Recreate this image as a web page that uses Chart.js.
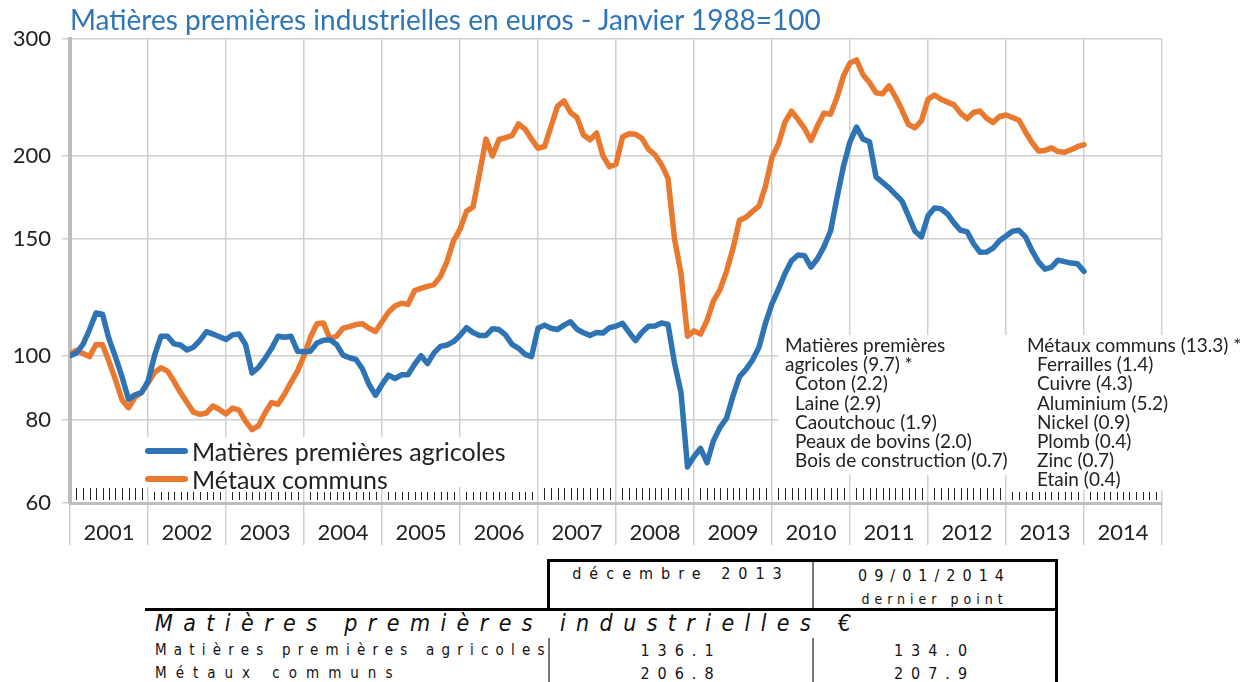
<!DOCTYPE html>
<html>
<head>
<meta charset="utf-8">
<script src="https://cdn.jsdelivr.net/npm/chart.js@4.4.0/dist/chart.umd.min.js"></script>
<style>
  body { margin: 0; width: 1242px; height: 682px; background: #fff; position: relative; overflow: hidden; font-family: Lato, sans-serif; color: #222; }
  #wrap { position: absolute; left: 0; top: 0; width: 1242px; height: 550px; }
  .abs { position: absolute; white-space: nowrap; }
  #title { left: 70px; top: 2px; font-size: 28px; color: #2E75B6; }
  .legend { background: #fff; left: 140px; top: 437px; width: 390px; height: 50px; }
  .swatch { position: absolute; left: 5px; width: 43px; height: 6px; border-radius: 3px; }
  .legend span { position: absolute; left: 52px; font-size: 25px; line-height: 28px; }
  .note { background: #fff; font-size: 19px; line-height: 19.2px; }
  .note div.in { padding-left: 10px; }
  .tb { font-family: "Liberation Sans Narrow", "DejaVu Sans Condensed", sans-serif; color: #111; }
  .ln { position: absolute; }
</style>
</head>
<body>
<div id="wrap"><canvas id="chart" width="1242" height="550"></canvas></div>

<div id="title" class="abs">Matières premières industrielles en euros - Janvier 1988=100</div>

<div class="abs legend">
  <div class="swatch" style="top:11px;background:#2E74B5"></div>
  <span style="top:0px">Matières premières agricoles</span>
  <div class="swatch" style="top:39px;background:#E8792F"></div>
  <span style="top:28px">Métaux communs</span>
</div>

<div class="abs note" style="left:778px;top:335px;width:242px;height:140px;padding-left:7px;">
  <div>Matières premières</div>
  <div>agricoles (9.7) *</div>
  <div class="in">Coton (2.2)</div>
  <div class="in">Laine (2.9)</div>
  <div class="in">Caoutchouc (1.9)</div>
  <div class="in">Peaux de bovins (2.0)</div>
  <div class="in">Bois de construction (0.7)</div>
</div>
<div class="abs note" style="left:1020px;top:335px;width:222px;height:155px;padding-left:7px;">
  <div>Métaux communs (13.3) *</div>
  <div class="in">Ferrailles (1.4)</div>
  <div class="in">Cuivre (4.3)</div>
  <div class="in">Aluminium (5.2)</div>
  <div class="in">Nickel (0.9)</div>
  <div class="in">Plomb (0.4)</div>
  <div class="in">Zinc (0.7)</div>
  <div class="in">Etain (0.4)</div>
</div>

<!-- table under the chart -->
<div class="ln" style="left:547px;top:559px;width:511px;height:3px;background:#000"></div>
<div class="ln" style="left:547px;top:559px;width:3px;height:52px;background:#000"></div>
<div class="ln" style="left:1055px;top:559px;width:3px;height:123px;background:#000"></div>
<div class="ln" style="left:812px;top:562px;width:2px;height:46px;background:#777"></div>
<div class="ln" style="left:812px;top:638px;width:2px;height:44px;background:#777"></div>
<div class="ln" style="left:548px;top:638px;width:1.5px;height:44px;background:#777"></div>
<div class="ln" style="left:145px;top:608px;width:913px;height:3px;background:#000"></div>

<div class="abs tb" style="left:550px;width:262px;top:564px;text-align:center;font-size:16px;letter-spacing:8px;">décembre 2013</div>
<div class="abs tb" style="left:814px;width:241px;top:566px;text-align:center;font-size:16px;letter-spacing:7px;">09/01/2014</div>
<div class="abs tb" style="left:814px;width:241px;top:591px;text-align:center;font-size:14px;letter-spacing:5px;">dernier point</div>
<div class="abs tb" style="left:155px;top:610px;font-size:23px;font-style:italic;letter-spacing:10.4px;">Matières premières industrielles €</div>
<div class="abs tb" style="left:155px;top:641px;font-size:15px;letter-spacing:7.2px;">Matières premières agricoles</div>
<div class="abs tb" style="left:155px;top:664px;font-size:15px;letter-spacing:9px;">Métaux communs</div>
<div class="abs tb" style="left:550px;width:262px;top:641px;text-align:center;font-size:16px;letter-spacing:8px;">136.1</div>
<div class="abs tb" style="left:814px;width:241px;top:641px;text-align:center;font-size:16px;letter-spacing:8px;">134.0</div>
<div class="abs tb" style="left:550px;width:262px;top:664px;text-align:center;font-size:16px;letter-spacing:8px;">206.8</div>
<div class="abs tb" style="left:814px;width:241px;top:664px;text-align:center;font-size:16px;letter-spacing:8px;">207.9</div>

<script>
// monthly points, janvier 2001 -> janvier 2014
const months = [];
for (let i = 0; i <= 156; i++) months.push(2001 + i / 12);

const agricoles = [
  100, 101, 104, 109.5, 116, 115.5, 106, 99.5, 93, 86, 87.3, 88,
  91.5, 100, 107, 107, 104.2, 103.8, 102, 103, 105.5, 108.7, 107.8, 106.8,
  105.8, 107.5, 107.8, 104, 94.2, 96, 99, 102.5, 107, 106.6, 107, 101.6,
  101.4, 101.6, 104.5, 105.5, 105.7, 104, 100.2, 99.3, 98.7, 95.5, 90.5, 87.2,
  90.5, 93.5, 92.4, 93.6, 93.6, 97, 100, 97.3, 101, 103.3, 103.8, 105,
  107.3, 110.2, 108.4, 107.3, 107.3, 109.8, 109.5, 107.5, 104, 102.6, 100.5, 99.7,
  110, 111.2, 110, 109.5, 111.2, 112.5, 109.6, 108.3, 107.3, 108.4, 108.2, 110.2,
  110.8, 111.9, 108.5, 105.4, 108.5, 110.8, 110.9, 112, 111.5, 97.5, 88, 68,
  70.5, 72.5, 69, 74.5, 78, 80.5, 87, 93, 95.4, 98.5, 103, 112,
  119.8, 126, 133, 139, 141.8, 141.5, 136, 140, 146, 154, 173, 193,
  210, 221, 212, 210, 186, 182.5, 179, 175, 171, 162.3, 154, 151,
  162.5, 167, 166.5, 163.5, 158.5, 154.5, 153.8, 147.5, 143.2, 143.3, 145.2, 149,
  151.5, 154, 154.5, 151, 144, 138.5, 135, 136, 139.3, 138.6, 137.9, 137.6,
  134
];

const metaux = [
  100.5, 101.9, 100.8, 99.7, 104, 103.9, 98, 92, 85.8, 83.5, 86.6, 88,
  91, 94.3, 95.9, 94.8, 91.5, 88, 85, 82.2, 81.6, 82, 84, 83,
  81.7, 83.4, 82.8, 79.7, 77.4, 78.4, 82, 85, 84.5, 87.5, 91.2, 94.8,
  100, 106.7, 111.7, 112, 106, 107, 110, 110.6, 111.4, 111.7, 110, 108.8,
  112.5, 116.3, 118.8, 120, 119.5, 125.3, 126.3, 127.2, 128, 131.7, 138.6, 149,
  155, 165, 167.5, 188, 212, 200, 211.7, 213, 214.5, 223.5, 219.5, 212,
  205.4, 206.6, 221.5, 237.5, 242, 232.5, 228.5, 215, 211.5, 216.5, 200, 192.6,
  194.4, 213.5, 216, 215.6, 212.5, 204.6, 200.8, 194, 185, 150, 133, 107,
  109, 107.8, 113, 121, 125.8, 134, 145, 160, 161.7, 165, 168, 180,
  199, 208.5, 225, 233.5, 227, 220, 211, 222, 232, 231, 245, 264,
  276, 279, 265, 258, 249, 248, 255, 245.5, 234.5, 223, 220.5, 226,
  243.3, 247, 243.4, 241, 238.7, 232, 227.5, 232.5, 233.7, 228, 224.5, 229.3,
  230.5, 228.5, 226.3, 217.3, 209.5, 203.5, 203.8, 205.6, 203, 202.5, 204.3, 206.5,
  207.9
];

const yLevels = [60, 80, 100, 150, 200, 300];
const yearStarts = [];
for (let y = 2001; y <= 2015; y++) yearStarts.push(y);
const tallMarkYears = [2001, 2007, 2008, 2009, 2010, 2011, 2012];

const BLUE = "#2E74B5";
const ORANGE = "#E8792F";

Chart.defaults.font.family = "Lato";

// gridline ticks at year starts, labels in the middle of each year
const xTicks = [];
yearStarts.forEach(y => {
  xTicks.push({ value: y });
  if (y < 2015) xTicks.push({ value: y + 0.5 });
});

// small monthly marks along the bottom of the plot
const monthMarks = {
  id: "monthMarks",
  beforeDatasetsDraw(chart) {
    const { ctx, chartArea, scales } = chart;
    ctx.save();
    ctx.strokeStyle = "#222";
    ctx.lineWidth = 1;
    for (let y = 2001; y < 2015; y++) {
      const h = tallMarkYears.includes(y) ? 12 : 8;
      for (let m = 1; m < 12; m++) {
        const px = Math.round(scales.x.getPixelForValue(y + m / 12)) + 0.5;
        ctx.beginPath();
        ctx.moveTo(px, chartArea.bottom - 3);
        ctx.lineTo(px, chartArea.bottom - 3 - h);
        ctx.stroke();
      }
    }
    ctx.restore();
  }
};

const toPoints = (vals) => vals.map((v, i) => ({ x: months[i], y: v }));

new Chart(document.getElementById("chart"), {
  type: "line",
  data: {
    datasets: [
      {
        label: "Matières premières agricoles",
        data: toPoints(agricoles),
        borderColor: BLUE,
        borderWidth: 5.5,
        pointRadius: 0,
        borderJoinStyle: "round",
        borderCapStyle: "round"
      },
      {
        label: "Métaux communs",
        data: toPoints(metaux),
        borderColor: ORANGE,
        borderWidth: 5.5,
        pointRadius: 0,
        borderJoinStyle: "round",
        borderCapStyle: "round"
      }
    ]
  },
  options: {
    responsive: false,
    animation: false,
    layout: { padding: { top: 39, right: 80, left: 0, bottom: 0 } },
    plugins: { legend: { display: false }, tooltip: { enabled: false } },
    scales: {
      x: {
        type: "linear",
        min: 2001,
        max: 2015,
        afterBuildTicks: (s) => { s.ticks = xTicks.map(t => ({ value: t.value })); },
        afterFit: (s) => { s.height = 47; },
        grid: {
          color: (c) => (c.tick && Number.isInteger(c.tick.value)) ? "#cfcfcf" : "rgba(0,0,0,0)",
          lineWidth: 1.5,
          tickLength: 42
        },
        border: { color: "#bdbdbd", width: 3 },
        ticks: {
          autoSkip: false,
          maxRotation: 0,
          padding: -25,
          color: "#222",
          font: { size: 22 },
          callback: (v) => Number.isInteger(v) ? "" : String(Math.floor(v))
        }
      },
      y: {
        type: "logarithmic",
        min: 60,
        max: 300,
        afterBuildTicks: (s) => { s.ticks = yLevels.map(v => ({ value: v })); },
        afterFit: (s) => { s.width = 70; },
        grid: { color: "#cfcfcf", lineWidth: 1.5, tickLength: 8 },
        border: { color: "#bdbdbd", width: 4 },
        ticks: { padding: 11, color: "#222", font: { size: 22 }, callback: (v) => String(v) }
      }
    }
  },
  plugins: [monthMarks]
});
</script>
</body>
</html>
